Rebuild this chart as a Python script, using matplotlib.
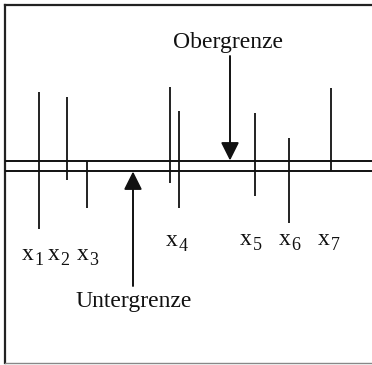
import matplotlib.pyplot as plt

plt.rcParams['font.family'] = ['Liberation Serif', 'DejaVu Serif']

# Messwerte als senkrechte Striche (x-Position, oberes und unteres Ende)
stem_x = [39, 67, 87, 170, 179, 255, 289, 331]
stem_top = [92, 97, 161, 87, 111, 113, 138, 88]
stem_bottom = [229, 180, 208, 183, 208, 196, 223, 171]

# Grenzen des Bandes
upper_y = 160.5
lower_y = 171

# Beschriftungen x1..x7
label_names = ['1', '2', '3', '4', '5', '6', '7']
label_x = [22, 48, 77, 166, 240, 279, 318]
label_y = [260, 260, 260, 246, 245, 245, 245]

fig = plt.figure(figsize=(3.72, 3.65), dpi=100)
ax = fig.add_axes([0, 0, 1, 1])
ax.set_xlim(0, 372)
ax.set_ylim(365, 0)
ax.axis('off')

# Rahmen
ax.plot([5, 5], [5, 363], color='#222222', lw=1.6)
ax.plot([5, 372], [5, 5], color='#222222', lw=1.6)
ax.plot([5, 372], [363, 363], color='#888888', lw=1.0)

# Band aus zwei Linien
ax.hlines([upper_y, lower_y], 5, 372, color='#111111', lw=1.4)

# Messstriche
ax.vlines(stem_x, stem_top, stem_bottom, color='#111111', lw=1.3)

# "x" mit tiefgestellter Ziffer
for name, lx, ly in zip(label_names, label_x, label_y):
    ax.text(lx, ly, 'x', fontsize=17, ha='left', va='baseline',
            color='#111111')
    ax.text(lx + 12.5, ly + 5, name, fontsize=13, ha='left', va='baseline',
            color='#111111')

arrow_style = dict(arrowstyle='-|>,head_length=1.1,head_width=0.55',
                   color='#111111', lw=1.4, shrinkA=0, shrinkB=0)

ax.annotate('', xy=(230, upper_y), xytext=(230, 56), arrowprops=arrow_style)
ax.text(228, 48, 'Obergrenze', fontsize=17, ha='center', va='baseline',
        color='#111111')

ax.annotate('', xy=(133, lower_y + 0.5), xytext=(133, 286),
            arrowprops=arrow_style)
ax.text(134, 307, 'Untergrenze', fontsize=17, ha='center', va='baseline',
        color='#111111')

fig.savefig('out.png', dpi=100)
